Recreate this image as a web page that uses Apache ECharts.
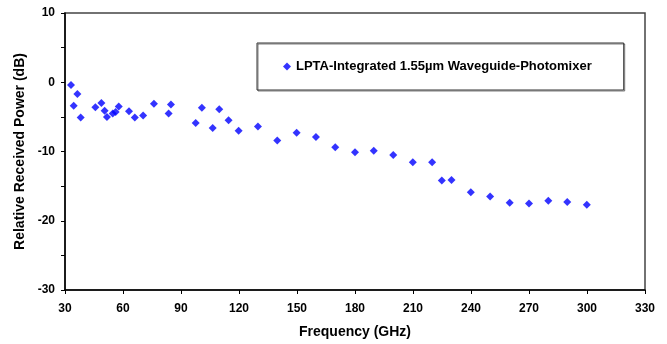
<!DOCTYPE html>
<html>
<head>
<meta charset="utf-8">
<script src="https://cdn.jsdelivr.net/npm/echarts@6/dist/echarts.min.js"></script>
<style>html,body{margin:0;padding:0;background:#fff}#c{width:667px;height:344px}</style>
</head>
<body>
<div id="c"></div>
<script>
const seriesName = 'LPTA-Integrated 1.55\u00b5m Waveguide-Photomixer';
const freqGHz = [33.1, 34.5, 36.4, 38.1, 45.7, 48.8, 50.5, 51.7, 54.7, 56.2, 57.8, 63.1, 66.1, 70.4, 76.0, 83.6, 84.8, 97.6, 100.8, 106.4, 109.8, 114.6, 119.8, 129.8, 139.8, 149.8, 159.8, 169.8, 180.0, 189.7, 199.8, 209.9, 219.9, 224.9, 229.9, 239.9, 249.9, 260.0, 270.0, 280.0, 289.8, 299.9];
const powerDb = [-0.4, -3.4, -1.7, -5.1, -3.6, -3.0, -4.1, -5.0, -4.5, -4.3, -3.5, -4.2, -5.1, -4.8, -3.1, -4.5, -3.2, -5.9, -3.7, -6.6, -3.9, -5.5, -7.0, -6.4, -8.4, -7.3, -7.9, -9.4, -10.1, -9.9, -10.5, -11.55, -11.55, -14.2, -14.1, -15.9, -16.5, -17.4, -17.5, -17.1, -17.3, -17.7];
const xTicks = {min: 30, max: 330, step: 30};
const yTicks = {min: -30, max: 10, step: 5, labelStep: 10};

const data = freqGHz.map((f, i) => [f, powerDb[i]]);
const font = 'Liberation Sans, Arial, sans-serif';
const chart = echarts.init(document.getElementById('c'));
chart.setOption({
  animation: false,
  backgroundColor: '#fff',
  grid: {left: 65, right: 22, top: 13, bottom: 54, show: true, borderColor: '#444', borderWidth: 1.5, containLabel: false},
  legend: {
    data: [{name: seriesName, icon: 'diamond'}],
    left: 257, top: 43,
    itemWidth: 8, itemHeight: 8, itemGap: 0,
    padding: [17, 32, 17, 26],
    borderColor: '#333', borderWidth: 1,
    shadowColor: 'rgba(0,0,0,0.5)', shadowOffsetX: 1, shadowOffsetY: 1, shadowBlur: 0,
    textStyle: {fontFamily: font, fontWeight: 'bold', fontSize: 13, color: '#000'}
  },
  xAxis: {
    type: 'value', min: xTicks.min, max: xTicks.max, interval: xTicks.step,
    name: 'Frequency (GHz)', nameLocation: 'middle', nameGap: 35,
    nameTextStyle: {fontFamily: font, fontWeight: 'bold', fontSize: 14, color: '#000'},
    axisLine: {show: true, onZero: false, lineStyle: {color: '#000', width: 1.5}},
    axisTick: {show: true, inside: false, length: 4, lineStyle: {color: '#000'}},
    splitLine: {show: false},
    axisLabel: {fontFamily: font, fontWeight: 'bold', fontSize: 12, color: '#000', margin: 13}
  },
  yAxis: {
    type: 'value', min: yTicks.min, max: yTicks.max, interval: yTicks.step,
    name: 'Relative Received Power (dB)', nameLocation: 'middle', nameGap: 32, nameRotate: 90,
    nameTextStyle: {fontFamily: font, fontWeight: 'bold', fontSize: 14, color: '#000'},
    axisLine: {show: true, onZero: false, lineStyle: {color: '#000', width: 1.5}},
    axisTick: {show: true, inside: false, length: 4, lineStyle: {color: '#000'}},
    splitLine: {show: false},
    axisLabel: {fontFamily: font, fontWeight: 'bold', fontSize: 12, color: '#000', margin: 10,
      formatter: v => (v % yTicks.labelStep === 0 ? String(v) : '')}
  },
  series: [{
    name: seriesName, type: 'scatter', symbol: 'diamond', symbolSize: 8,
    itemStyle: {color: '#0000ff'}, data: data
  }]
});
</script>
</body>
</html>
